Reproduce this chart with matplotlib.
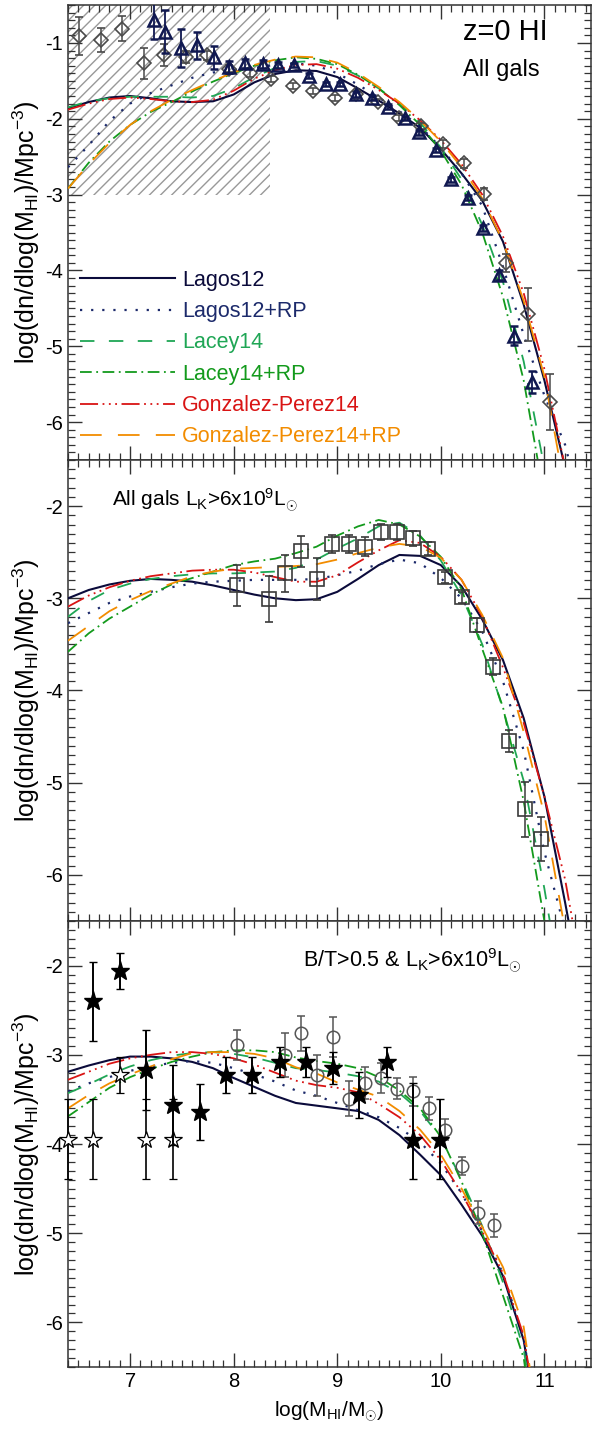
import matplotlib
matplotlib.use("Agg")
import matplotlib.pyplot as plt
from matplotlib.lines import Line2D
from matplotlib.ticker import MultipleLocator

plt.rcParams['font.family'] = ['Liberation Sans', 'DejaVu Sans']
plt.rcParams['mathtext.fontset'] = 'custom'
plt.rcParams['mathtext.rm'] = 'Liberation Sans'
plt.rcParams['mathtext.it'] = 'Liberation Sans:italic'
plt.rcParams['axes.unicode_minus'] = False
plt.rcParams['hatch.linewidth'] = 1.0

# ---- data ----
logm = [6.4, 6.6, 6.8, 7.0, 7.2, 7.4, 7.6, 7.8, 8.0, 8.2, 8.4, 8.6, 8.8,
        9.0, 9.2, 9.4, 9.6, 9.8, 10.0, 10.2, 10.4, 10.6, 10.8, 11.0, 11.2, 11.4]

models = ['Lagos12', 'Lagos12+RP', 'Lacey14', 'Lacey14+RP',
          'Gonzalez-Perez14', 'Gonzalez-Perez14+RP']

# top panel: all galaxies
lagos_top = [-1.86, -1.78, -1.72, -1.70, -1.73, -1.77, -1.78, -1.77, -1.68, -1.52, -1.41, -1.36, -1.37,
             -1.45, -1.60, -1.76, -1.93, -2.12, -2.40, -2.72, -3.08, -3.62, -4.45, -5.45, -6.60, -7.8]
lagosrp_top = [-2.64, -2.35, -2.03, -1.80, -1.66, -1.56, -1.46, -1.39, -1.36, -1.33, -1.29, -1.27, -1.30,
               -1.40, -1.55, -1.72, -1.90, -2.10, -2.38, -2.72, -3.15, -3.95, -4.85, -5.65, -6.30, -7.4]
lacey_top = [-1.85, -1.77, -1.73, -1.71, -1.71, -1.71, -1.72, -1.70, -1.60, -1.45, -1.33, -1.25, -1.24,
             -1.30, -1.43, -1.60, -1.80, -2.05, -2.38, -2.80, -3.40, -4.15, -5.20, -6.60, -8.0, -9.0]
laceyrp_top = [-2.92, -2.58, -2.30, -2.08, -1.91, -1.78, -1.64, -1.51, -1.40, -1.30, -1.23, -1.19, -1.21,
               -1.28, -1.42, -1.60, -1.82, -2.08, -2.42, -2.87, -3.50, -4.35, -5.45, -7.0, -8.5, -9.5]
gp_top = [-1.88, -1.80, -1.74, -1.72, -1.74, -1.77, -1.78, -1.75, -1.63, -1.47, -1.36, -1.29, -1.28,
          -1.34, -1.46, -1.62, -1.80, -2.02, -2.28, -2.60, -3.00, -3.55, -4.30, -5.30, -6.60, -7.9]
gprp_top = [-2.92, -2.60, -2.32, -2.08, -1.90, -1.75, -1.62, -1.50, -1.39, -1.29, -1.22, -1.18, -1.19,
            -1.26, -1.40, -1.58, -1.78, -2.02, -2.30, -2.64, -3.05, -3.62, -4.40, -5.40, -6.90, -8.0]

# middle panel: L_K > 6e9
lagos_mid = [-3.00, -2.91, -2.85, -2.81, -2.79, -2.80, -2.82, -2.86, -2.91, -2.96, -3.00, -3.02, -3.01,
             -2.93, -2.79, -2.64, -2.53, -2.54, -2.64, -2.87, -3.23, -3.67, -4.30, -5.15, -6.30, -7.5]
lagosrp_mid = [-3.27, -3.16, -3.05, -2.98, -2.93, -2.88, -2.84, -2.82, -2.81, -2.80, -2.80, -2.80, -2.79,
               -2.75, -2.70, -2.63, -2.58, -2.62, -2.78, -3.00, -3.36, -3.90, -4.65, -5.75, -6.60, -7.5]
lacey_mid = [-3.20, -3.03, -2.91, -2.84, -2.79, -2.76, -2.74, -2.73, -2.73, -2.72, -2.71, -2.67, -2.58,
             -2.46, -2.35, -2.22, -2.18, -2.32, -2.59, -2.97, -3.50, -4.20, -4.98, -6.15, -7.5, -8.5]
laceyrp_mid = [-3.58, -3.38, -3.22, -3.09, -2.96, -2.85, -2.78, -2.71, -2.64, -2.60, -2.57, -2.51, -2.44,
               -2.32, -2.22, -2.15, -2.20, -2.33, -2.55, -2.90, -3.55, -4.18, -5.20, -6.50, -8.0, -9.0]
gp_mid = [-3.09, -2.97, -2.88, -2.81, -2.76, -2.73, -2.70, -2.69, -2.69, -2.72, -2.77, -2.82, -2.82,
          -2.75, -2.61, -2.48, -2.37, -2.40, -2.55, -2.80, -3.20, -3.75, -4.35, -5.15, -6.05, -7.3]
gprp_mid = [-3.46, -3.30, -3.14, -3.02, -2.92, -2.84, -2.76, -2.71, -2.68, -2.67, -2.66, -2.65, -2.63,
            -2.58, -2.51, -2.45, -2.41, -2.44, -2.56, -2.80, -3.18, -3.65, -4.45, -5.35, -6.60, -7.8]

# bottom panel: B/T > 0.5 & L_K > 6e9
lagos_bot = [-3.19, -3.12, -3.06, -3.02, -3.02, -3.04, -3.08, -3.15, -3.26, -3.36, -3.46, -3.54, -3.57,
             -3.60, -3.63, -3.73, -3.90, -4.12, -4.35, -4.68, -5.03, -5.48, -6.20, -7.6, -8.5, -9.0]
lagosrp_bot = [-3.41, -3.32, -3.25, -3.18, -3.13, -3.09, -3.07, -3.09, -3.15, -3.22, -3.30, -3.40, -3.46,
               -3.54, -3.62, -3.70, -3.82, -3.98, -4.22, -4.55, -4.98, -5.45, -6.18, -7.6, -8.5, -9.0]
lacey_bot = [-3.43, -3.33, -3.22, -3.13, -3.06, -3.01, -2.98, -2.97, -2.99, -3.03, -3.09, -3.15, -3.17,
             -3.20, -3.24, -3.30, -3.43, -3.63, -3.93, -4.40, -4.92, -5.55, -6.30, -7.8, -8.5, -9.0]
laceyrp_bot = [-3.69, -3.53, -3.37, -3.25, -3.16, -3.08, -3.02, -2.97, -2.95, -2.95, -2.97, -3.03, -3.07,
               -3.10, -3.15, -3.25, -3.40, -3.60, -3.92, -4.42, -5.00, -5.70, -6.40, -7.8, -8.5, -9.0]
gp_bot = [-3.28, -3.19, -3.10, -3.04, -3.00, -2.97, -2.97, -2.99, -3.04, -3.11, -3.20, -3.29, -3.34,
          -3.37, -3.42, -3.55, -3.70, -3.90, -4.18, -4.55, -4.98, -5.45, -6.15, -7.6, -8.5, -9.0]
gprp_bot = [-3.60, -3.45, -3.32, -3.22, -3.13, -3.05, -2.98, -2.97, -2.97, -2.99, -3.04, -3.14, -3.21,
            -3.31, -3.39, -3.47, -3.63, -3.84, -4.12, -4.50, -4.93, -5.38, -6.05, -7.6, -8.5, -9.0]

# observations, top panel
dia_x = [6.51, 6.72, 6.92, 7.13, 7.33, 7.54, 7.74, 7.95, 8.16, 8.36, 8.57, 8.77, 8.98, 9.18,
         9.39, 9.60, 9.81, 10.02, 10.22, 10.42, 10.63, 10.84, 11.05]
dia_y = [-0.91, -0.96, -0.81, -1.27, -1.16, -1.19, -1.16, -1.34, -1.40, -1.48, -1.57, -1.63, -1.73, -1.68,
         -1.78, -1.99, -2.09, -2.33, -2.59, -2.99, -3.90, -4.58, -5.73]
dia_err = [0.25, 0.16, 0.16, 0.20, 0.15, 0.08, 0.06, 0.05, 0.05, 0.04, 0.04, 0.04, 0.04, 0.04,
           0.04, 0.04, 0.04, 0.05, 0.06, 0.08, 0.12, 0.35, 0.37]

tri_x = [7.23, 7.34, 7.49, 7.65, 7.81, 7.95, 8.11, 8.28, 8.43, 8.58, 8.73, 8.89, 9.03, 9.18, 9.34,
         9.49, 9.65, 9.79, 9.95, 10.10, 10.26, 10.41, 10.56, 10.71, 10.88]
tri_y = [-0.70, -0.85, -1.07, -1.03, -1.19, -1.32, -1.27, -1.28, -1.29, -1.29, -1.43, -1.54, -1.54, -1.68,
         -1.72, -1.84, -1.99, -2.18, -2.41, -2.80, -3.04, -3.44, -4.06, -4.86, -5.47]
tri_err = [0.25, 0.28, 0.25, 0.18, 0.15, 0.08, 0.06, 0.05, 0.04, 0.03, 0.03, 0.03, 0.03, 0.03, 0.03,
           0.03, 0.03, 0.03, 0.03, 0.03, 0.03, 0.04, 0.06, 0.13, 0.15]

hatch_x = [6.4, 8.35]
hatch_y = [-3.0, -0.5]

# middle panel
sq_x = [8.03, 8.34, 8.50, 8.65, 8.80, 8.95, 9.11, 9.27, 9.42, 9.58, 9.73, 9.88, 10.04, 10.20,
        10.35, 10.50, 10.66, 10.81, 10.97]
sq_y = [-2.86, -3.01, -2.73, -2.49, -2.79, -2.41, -2.41, -2.44, -2.28, -2.28, -2.35, -2.46, -2.77, -2.99,
        -3.29, -3.74, -4.55, -5.29, -5.61]
sq_err = [0.22, 0.25, 0.20, 0.17, 0.23, 0.10, 0.10, 0.10, 0.09, 0.09, 0.08, 0.07, 0.06, 0.06,
          0.08, 0.09, 0.12, 0.30, 0.24]

# bottom panel
fs_x = [6.64, 6.90, 7.15, 7.41, 7.67, 7.93, 8.18, 8.45, 8.70, 8.96, 9.21, 9.48, 9.73, 9.99]
fs_y = [-2.40, -2.06, -3.17, -3.56, -3.64, -3.23, -3.23, -3.08, -3.08, -3.15, -3.45, -3.08, -3.95, -3.96]
fs_lo = [0.44, 0.20, 0.45, 0.45, 0.31, 0.20, 0.20, 0.17, 0.17, 0.18, 0.26, 0.17, 0.44, 0.43]
fs_hi = [0.44, 0.20, 0.45, 0.45, 0.31, 0.20, 0.20, 0.17, 0.17, 0.18, 0.26, 0.17, 0.63, 0.46]

os_x = [6.40, 6.64, 6.90, 7.15, 7.41]
os_y = [-3.96, -3.96, -3.23, -3.96, -3.96]
os_lo = [0.43, 0.43, 0.20, 0.43, 0.43]
os_hi = [0.46, 0.46, 0.20, 0.46, 0.46]

oc_x = [8.03, 8.50, 8.65, 8.80, 8.96, 9.11, 9.27, 9.42, 9.58, 9.73, 9.89, 10.04, 10.20, 10.36, 10.51]
oc_y = [-2.89, -3.00, -2.76, -3.23, -2.80, -3.49, -3.32, -3.26, -3.38, -3.41, -3.60, -3.84, -4.25,
        -4.77, -4.91]
oc_err = [0.17, 0.25, 0.20, 0.23, 0.22, 0.20, 0.18, 0.17, 0.12, 0.16, 0.13, 0.12, 0.10, 0.13, 0.13]

# ---- styles ----
colors = ['#0b0b3b', '#1c2a6b', '#1fa655', '#139a1c', '#d91414', '#f28c00']
styles = ['-', (0, (1, 4)), (0, (8, 8)), (0, (6.5, 2.5, 1, 2.5)),
          (0, (10, 2.5, 1, 2.5, 1, 2.5, 1, 2.5)), (0, (12, 9))]
widths = [1.5, 1.6, 1.3, 1.3, 1.3, 1.3]

W, H = 598, 1439
fig = plt.figure(figsize=(W / 100, H / 100), dpi=100)
left, width = 68 / W, (591 - 68) / W
ax_top = fig.add_axes([left, 1 - 460 / H, width, 455 / H])
ax_mid = fig.add_axes([left, 1 - 921 / H, width, 461 / H])
ax_bot = fig.add_axes([left, 1 - 1367 / H, width, 446 / H])

panels = [
    (ax_top, [lagos_top, lagosrp_top, lacey_top, laceyrp_top, gp_top, gprp_top], (-6.5, -0.5)),
    (ax_mid, [lagos_mid, lagosrp_mid, lacey_mid, laceyrp_mid, gp_mid, gprp_mid], (-6.5, -1.5)),
    (ax_bot, [lagos_bot, lagosrp_bot, lacey_bot, laceyrp_bot, gp_bot, gprp_bot], (-6.5, -1.5)),
]

for ax, curves, ylim in panels:
    for y, c, ls, lw in zip(curves, colors, styles, widths):
        ax.plot(logm, y, color=c, linestyle=ls, lw=lw, zorder=3)
    ax.set_xlim(6.4, 11.45)
    ax.set_ylim(*ylim)
    ax.xaxis.set_major_locator(MultipleLocator(1))
    ax.xaxis.set_minor_locator(MultipleLocator(0.1))
    ax.yaxis.set_major_locator(MultipleLocator(1))
    ax.yaxis.set_minor_locator(MultipleLocator(0.1))
    ax.tick_params(which='both', direction='in', top=True, right=True, color='#333333',
                   labelsize=14.5)
    ax.tick_params(which='major', length=10, width=1.0)
    ax.tick_params(which='minor', length=5, width=0.9)
    for s in ax.spines.values():
        s.set_color('#333333')
        s.set_linewidth(1.1)
    ax.set_ylabel(r'log(dn/dlog(M$_{\rm HI}$)/Mpc$^{-3}$)', fontsize=18, labelpad=2)
    if ax is not ax_bot:
        ax.tick_params(labelbottom=False)

# top panel extras
ax_top.fill_between(hatch_x, hatch_y[0], hatch_y[1], hatch='///', facecolor='none',
                    edgecolor='#999999', linewidth=0, zorder=1)
ax_top.errorbar(dia_x, dia_y, yerr=dia_err, fmt='D', ms=7, mfc='none', mec='#4a4a4a', mew=1.2,
                ecolor='#4a4a4a', elinewidth=1.1, capsize=3, zorder=4)
ax_top.errorbar(tri_x, tri_y, yerr=tri_err, fmt='^', ms=9, mfc='none', mec='#101850', mew=1.8,
                ecolor='#101850', elinewidth=1.3, capsize=3, zorder=5)
ax_top.text(0.755, 0.94, 'z=0 HI', transform=ax_top.transAxes, fontsize=21, va='center')
ax_top.text(0.755, 0.857, 'All gals', transform=ax_top.transAxes, fontsize=17, va='center')

handles = [Line2D([], [], color=c, linestyle=ls, lw=lw) for c, ls, lw in zip(colors, styles, widths)]
ax_top.legend(handles, models, loc='upper left', bbox_to_anchor=(0.023, 0.418), frameon=False,
              borderpad=0, borderaxespad=0, handlelength=4.4, handletextpad=0.33,
              labelspacing=0.48, fontsize=15.5, labelcolor=colors)

# middle panel extras
ax_mid.errorbar(sq_x, sq_y, yerr=sq_err, fmt='s', ms=10, mfc='none', mec='#3a3a3a', mew=1.2,
                ecolor='#3a3a3a', elinewidth=1.1, capsize=3, zorder=4)
ax_mid.text(0.084, 0.913, r'All gals L$_{\rm K}$>6x10$^{9}$L$_{\odot}$', transform=ax_mid.transAxes,
            fontsize=15, va='center')

# bottom panel extras
ax_bot.errorbar(oc_x, oc_y, yerr=oc_err, fmt='o', ms=9, mfc='none', mec='#555555', mew=1.1,
                ecolor='#555555', elinewidth=1.1, capsize=3, zorder=4)
ax_bot.errorbar(os_x, os_y, yerr=[os_lo, os_hi], fmt='*', ms=13, mfc='white', mec='black', mew=0.9,
                ecolor='black', elinewidth=1.2, capsize=3, zorder=5, clip_on=False)
ax_bot.errorbar(fs_x, fs_y, yerr=[fs_lo, fs_hi], fmt='*', ms=14, mfc='black', mec='black',
                ecolor='black', elinewidth=1.4, capsize=3, zorder=6)
ax_bot.text(0.449, 0.912, r'B/T>0.5 & L$_{\rm K}$>6x10$^{9}$L$_{\odot}$', transform=ax_bot.transAxes,
            fontsize=15.5, va='center')
ax_bot.set_xlabel(r'log(M$_{\rm HI}$/M$_{\odot}$)', fontsize=15, labelpad=6)

fig.savefig('out.png', dpi=100)
